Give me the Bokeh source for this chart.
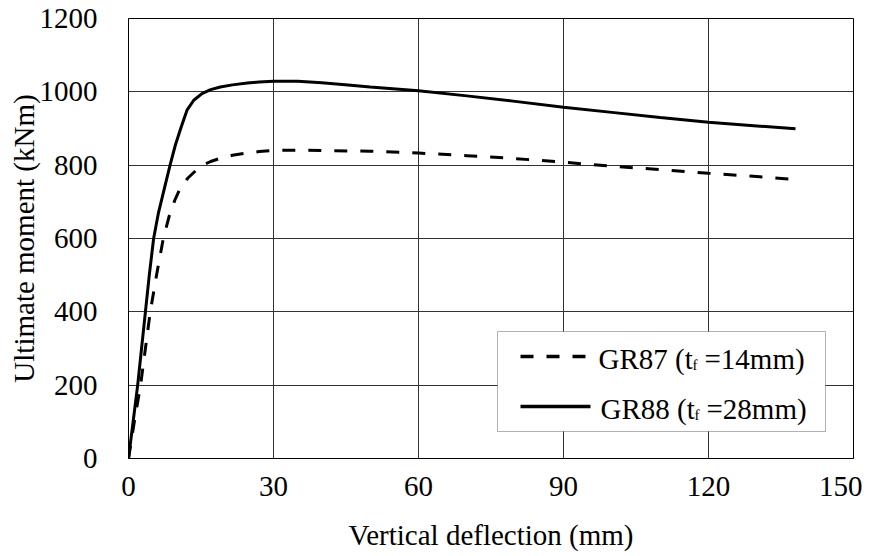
from bokeh.plotting import figure
from bokeh.models import FixedTicker, BoxAnnotation, Label, Range1d
from bokeh.embed import file_html
from bokeh.resources import INLINE

# ---- data ----
gr87_x = [0, 1.2, 2.5, 3.5, 4.5, 5.8, 7.2, 8.4, 9.6, 10.8, 12.3, 13.9, 15.2, 17, 19, 21.5, 24.5, 27, 30, 35,
          40, 50, 60, 70, 80, 90, 100, 110, 120, 130, 137.5]
gr87_y = [0, 100, 200, 300, 400, 500, 600, 660, 705, 740, 765, 785, 799, 810, 819, 827, 833, 837, 840, 841,
          840, 838, 833, 826, 818, 808, 797, 788, 778, 769, 761]
gr88_x = [0, 1.0, 1.9, 2.7, 3.5, 4.3, 5.2, 6.2, 7.3, 8.6, 9.7, 10.8, 12.1, 13.5, 15.2, 17, 19, 21.5, 24.6, 27,
          30, 35, 40, 46, 50, 60, 70, 80, 90, 100, 110, 120, 130, 138]
gr88_y = [0, 105, 200, 300, 400, 500, 600, 670, 730, 800, 855, 900, 950, 977, 995, 1006, 1013, 1019, 1024, 1027,
          1029, 1029, 1025, 1018, 1013, 1003, 989, 974, 958, 944, 930, 917, 907, 899]
x_ticks = [0, 30, 60, 90, 120, 150]
y_ticks = [0, 200, 400, 600, 800, 1000, 1200]
series_labels = [("GR87 (t", "f", "=14mm)"), ("GR88 (t", "f", "=28mm)")]

FONT = "Liberation Serif"
FS = "29px"
FL, FT, FW, FH = 128, 18, 725, 440  # frame geometry in figure px

p = figure(frame_width=FW, frame_height=FH,
           x_range=Range1d(0, 150), y_range=Range1d(0, 1200),
           output_backend="svg", toolbar_location=None,
           min_border_left=FL, min_border_right=9, min_border_top=FT, min_border_bottom=82,
           x_axis_label="Vertical deflection (mm)", y_axis_label="Ultimate moment (kNm)")
p.background_fill_color = "white"
p.border_fill_color = "white"
p.outline_line_color = "black"
p.outline_line_width = 1

p.xaxis.ticker = FixedTicker(ticks=x_ticks)
p.yaxis.ticker = FixedTicker(ticks=y_ticks)
for ax in (p.xaxis, p.yaxis):
    ax.axis_line_color = "black"
    ax.major_tick_line_color = None
    ax.minor_tick_line_color = None
    ax.major_label_text_font = FONT
    ax.major_label_text_font_size = FS
    ax.major_label_text_color = "black"
    ax.axis_label_text_font = FONT
    ax.axis_label_text_font_size = FS
    ax.axis_label_text_font_style = "normal"
    ax.axis_label_text_color = "black"
p.xaxis.major_label_standoff = 12
p.yaxis.major_label_standoff = 25
p.xaxis.axis_label_standoff = 20
p.yaxis.axis_label_standoff = -3

p.grid.grid_line_color = "#333333"
p.grid.grid_line_width = 1
p.xgrid.ticker = FixedTicker(ticks=x_ticks)
p.ygrid.ticker = FixedTicker(ticks=y_ticks)

p.line(gr87_x, gr87_y, line_color="black", line_width=3, line_dash="13 13")
p.line(gr88_x, gr88_y, line_color="black", line_width=3)

# ---- legend (manual, to keep the subscript f); positions in picture px ----
def sx(px):
    return (px - FL) / FW * 150.0

def sy(py):
    return (FT + FH - py) / FH * 1200.0

box = BoxAnnotation(left=sx(497), right=sx(825), top=sy(331), bottom=sy(431),
                    fill_color="white", fill_alpha=1.0, line_color="black", line_width=1,
                    level="annotation")
p.add_layout(box)

rows = [(356, 358, "13 13", 598), (406, 408, "solid", 600)]
for (ly, base, dash, tx), (a, f, b) in zip(rows, series_labels):
    r = p.line([sx(520), sx(590)], [sy(ly), sy(ly)], line_color="black", line_width=3.5, line_dash=dash)
    r.level = "overlay"
    for txt, px, size, dy in ((a, tx, FS, 0), (f, tx + 94, "15px", 6), (b, tx + 106, FS, 0)):
        lab = Label(x=sx(px), y=sy(base + dy), text=txt, text_font=FONT, text_font_size=size,
                    text_color="black", text_baseline="alphabetic", text_align="left", level="overlay")
        p.add_layout(lab)

open("out.html", "w").write(file_html(p, INLINE))
